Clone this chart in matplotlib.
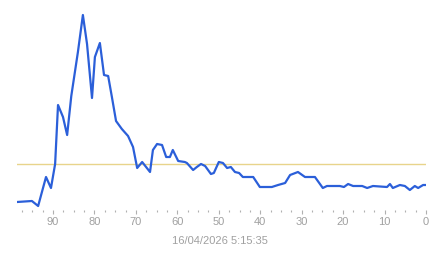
import matplotlib
matplotlib.use("Agg")
import matplotlib.pyplot as plt
from matplotlib.ticker import MultipleLocator

# samples ago (x) and measured value (y)
ago = [98.7, 95.1, 93.6, 91.7, 90.5, 89.5, 88.8, 87.6, 86.6, 85.6,
       84.0, 82.8, 81.8, 80.6, 79.9, 78.7, 77.7, 76.7, 75.8, 74.8,
       73.4, 71.9, 70.7, 69.7, 68.5, 66.6, 65.9, 64.9, 63.7, 62.7,
       61.8, 61.1, 59.8, 58.2, 57.7, 56.2, 55.3, 54.3, 53.3, 51.9,
       51.2, 50.0, 49.0, 48.0, 47.1, 46.1, 45.1, 44.2, 41.7, 40.1,
       37.2, 35.7, 34.0, 32.8, 30.9, 29.2, 26.8, 24.9, 23.9, 20.8,
       19.8, 18.8, 17.6, 15.4, 14.2, 12.8, 9.4, 8.7, 8.0, 6.3,
       5.1, 3.9, 2.7, 1.9, 0.7, 0.0]
value = [8, 9, 4, 33, 22, 46, 105, 93, 75, 114,
         158, 195, 166, 112, 153, 167, 135, 134, 113, 89,
         81, 74, 63, 42, 48, 38, 60, 66, 65, 53,
         53, 60, 49, 48, 47, 40, 43, 46, 44, 36,
         37, 48, 47, 42, 43, 38, 37, 33, 33, 23,
         23, 25, 27, 35, 38, 33, 33, 22, 24, 24,
         23, 26, 24, 24, 22, 24, 23, 26, 22, 25,
         24, 20, 24, 22, 25, 25]
threshold = 46
timestamp = "16/04/2026 5:15:35"

fig = plt.figure(figsize=(4.43, 2.58), dpi=100)
ax = fig.add_axes([17 / 443, 48 / 258, 409 / 443, 202 / 258])

ax.axhline(threshold, color="#e8d48b", lw=1)
ax.plot(ago, value, color="#2b5fd9", lw=1.6)

ax.set_xlim(98.7, 0)
ax.set_ylim(0, 202)
ax.xaxis.set_major_locator(MultipleLocator(10))
ax.xaxis.set_minor_locator(MultipleLocator(2.5))
ax.tick_params(axis="x", which="major", length=3, width=0.8, color="#b0b0b0",
               labelcolor="#a0a0a0", labelsize=8, pad=2)
ax.tick_params(axis="x", which="minor", length=1.2, width=0.8, color="#b0b0b0")
ax.set_yticks([])
for s in ax.spines.values():
    s.set_visible(False)
for lbl in ax.get_xticklabels():
    lbl.set_family("Liberation Sans")

fig.text(220 / 443, 1 - 241 / 258, timestamp, ha="center", va="center",
         fontsize=8, color="#a0a0a0", family="Liberation Sans")

fig.savefig("out.png", dpi=100)
